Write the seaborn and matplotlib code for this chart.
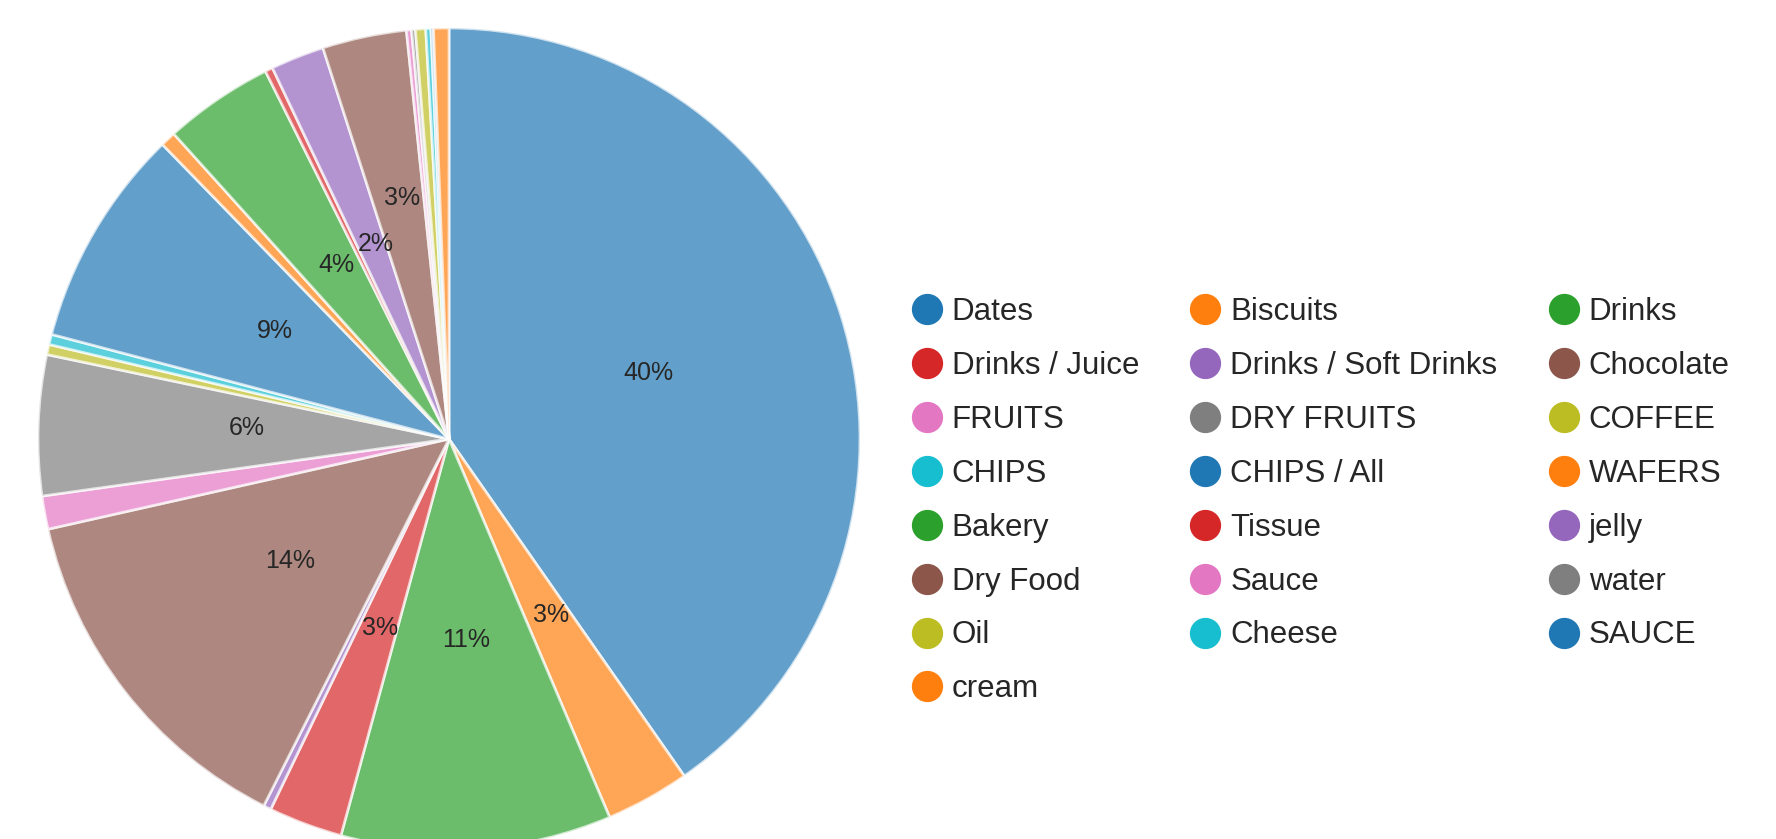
import matplotlib
matplotlib.use('Agg')
import matplotlib.pyplot as plt
import matplotlib.transforms as mtransforms
import seaborn as sns
from matplotlib.lines import Line2D
import numpy as np

# categories in drawing order (clockwise from 12 o'clock)
categories = ['Dates', 'Biscuits', 'Drinks', 'Drinks / Juice', 'Drinks / Soft Drinks',
              'Chocolate', 'FRUITS', 'DRY FRUITS', 'COFFEE', 'CHIPS', 'CHIPS / All',
              'WAFERS', 'Bakery', 'Tissue', 'jelly', 'Dry Food', 'Sauce', 'water',
              'Oil', 'Cheese', 'SAUCE', 'cream']
# share of each category (percent)
shares = [40.2, 3.3, 10.6, 2.9, 0.3,
          14.0, 1.3, 5.5, 0.4, 0.4, 8.6,
          0.6, 4.3, 0.3, 2.1, 3.3, 0.2, 0.15,
          0.4, 0.2, 0.1, 0.6]

sns.set_theme(style='white')
plt.rcParams['font.family'] = ['Liberation Sans', 'DejaVu Sans']

W, H = 1776, 839
fig = plt.figure(figsize=(W / 100, H / 100), dpi=100)

# pie: centre (449, 439) px, radius 411 px -> slightly cut at the bottom
cx, cy, r = 449, 439, 411
ax = fig.add_axes([(cx - r) / W, (H - cy - r) / H, 2 * r / W, 2 * r / H])

palette = sns.color_palette('tab10', 10)
colors = [palette[i % 10] for i in range(len(categories))]

wedges, _, autotexts = ax.pie(
    shares, colors=colors, startangle=90, counterclock=False,
    autopct=lambda p: f'{p:.0f}%' if p >= 2 else '',
    pctdistance=0.5,
    wedgeprops=dict(edgecolor='white', linewidth=2, alpha=0.7),
    textprops=dict(fontsize=18, color='#262626'))
ax.set_xlim(-1, 1)
ax.set_ylim(-1, 1)
ax.set_aspect('equal')

# the Dry Food label sits a bit further out
i = categories.index('Dry Food')
w = wedges[i]
mid = np.deg2rad((w.theta1 + w.theta2) / 2)
autotexts[i].set_position((0.59 * np.cos(mid), 0.59 * np.sin(mid)))

# labels sit a few pixels up/right of the exact wedge position
shift = mtransforms.offset_copy(ax.transData, fig=fig, x=3, y=4, units='dots')
for t in autotexts:
    t.set_transform(shift)

handles = [Line2D([0], [0], marker='o', linestyle='none', markersize=21.5,
                  markerfacecolor=c, markeredgecolor=c) for c in colors]

# legend reads row by row, matplotlib fills column by column
ncol = 3
order = [k for c in range(ncol) for k in range(c, len(categories), ncol)]
fig.legend([handles[k] for k in order], [categories[k] for k in order],
           ncol=ncol, frameon=False,
           loc='upper left', bbox_to_anchor=(911 / W, 1 - 297 / H),
           fontsize=22.5, handlelength=1.0, handletextpad=0.3,
           columnspacing=1.62, labelspacing=0.765, borderpad=0, borderaxespad=0)

fig.savefig('out.png', dpi=100)
